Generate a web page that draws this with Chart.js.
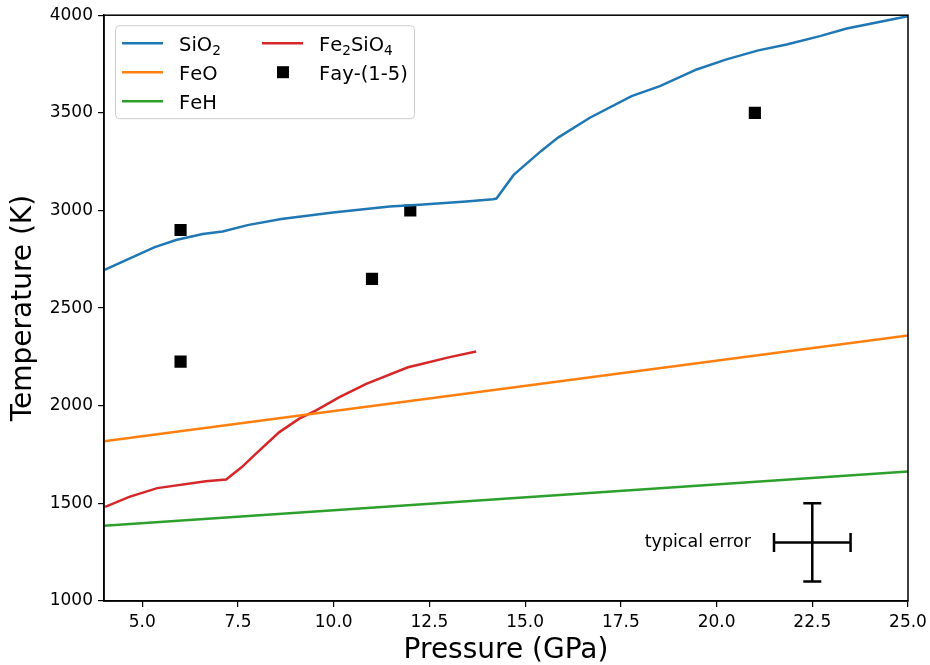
<!DOCTYPE html>
<html>
<head>
<meta charset="utf-8">
<script src="https://cdn.jsdelivr.net/npm/chart.js@4.4.0/dist/chart.umd.min.js"></script>
<style>
  html, body { margin: 0; padding: 0; background: #fff; }
  #wrap { width: 930px; height: 665px; }
</style>
</head>
<body>
<div id="wrap"><canvas id="c" width="930" height="665"></canvas></div>
<script>
// melting curves (pressure GPa, temperature K)
const sio2P = [4, 5.31, 5.88, 6.58, 7.1, 7.75, 8.63, 9.98, 11.46, 12.24, 13.46, 14.16, 14.25, 14.7, 15.12, 15.42, 15.86, 16.69, 17.78, 18.52, 19.48, 20.26, 21.09, 21.83, 22.7, 23.4, 25];
const sio2T = [2695, 2811, 2849, 2879, 2892, 2925, 2956, 2990, 3020, 3029, 3046, 3058, 3061, 3182, 3254, 3305, 3373, 3475, 3586, 3637, 3722, 3774, 3820, 3850, 3893, 3932, 3995];

const feoP = [4, 25];
const feoT = [1818, 2360];

const fehP = [4, 25];
const fehT = [1385, 1663];

const fayCurveP = [4.03, 4.66, 5.39, 6.66, 7.19, 7.6, 7.97, 8.58, 9.1, 9.54, 10.15, 10.85, 11.94, 12.24, 13.03, 13.72];
const fayCurveT = [1482, 1533, 1578, 1613, 1622, 1686, 1755, 1865, 1934, 1976, 2044, 2112, 2197, 2211, 2249, 2278];

// Fay-(1-5) experiments
const fayExpP = [6, 6, 11, 12, 21];
const fayExpT = [2900, 2226, 2650, 3000, 3500];

// typical error bar
const errCenter = [22.5, 1300];
const errSize = [1, 200];

const xTicks = [5, 7.5, 10, 12.5, 15, 17.5, 20, 22.5, 25];
const yTicks = [1000, 1500, 2000, 2500, 3000, 3500, 4000];

const pts = (xs, ys) => xs.map((x, i) => ({ x: x, y: ys[i] }));
const FONT = 'DejaVu Sans';
const SUBS = '₀₁₂₃₄₅₆₇₈₉';

function lineSet(label, xs, ys, color) {
  return {
    label: label, data: pts(xs, ys), borderColor: color, backgroundColor: color,
    borderWidth: 2.5, pointRadius: 0, showLine: true, tension: 0, fill: false
  };
}

const datasets = [
  lineSet('SiO₂', sio2P, sio2T, '#1f77b4'),
  lineSet('FeO', feoP, feoT, '#ff7f0e'),
  lineSet('FeH', fehP, fehT, '#2ca02c'),
  lineSet('Fe₂SiO₄', fayCurveP, fayCurveT, '#d62728'),
  {
    label: 'Fay-(1-5)', data: pts(fayExpP, fayExpT), showLine: false,
    pointStyle: 'rect', pointRadius: 8.6, borderWidth: 0,
    backgroundColor: '#000', borderColor: '#000'
  }
];

// write a label, subscript digits smaller and lower like mathtext
function drawLabel(ctx, text, x, y, size) {
  for (const ch of text) {
    const k = SUBS.indexOf(ch);
    if (k >= 0) {
      ctx.font = (size * 0.7) + 'px "' + FONT + '"';
      ctx.fillText(String(k), x, y + size * 0.2);
      x += ctx.measureText(String(k)).width;
    } else {
      ctx.font = size + 'px "' + FONT + '"';
      ctx.fillText(ch, x, y);
      x += ctx.measureText(ch).width;
    }
  }
}

// frame, error bar and legend
const extras = {
  id: 'extras',
  afterDatasetsDraw(chart) {
    const ctx = chart.ctx, a = chart.chartArea;
    const xs = chart.scales.x, ys = chart.scales.y;
    ctx.save();

    // error bar
    const cx = xs.getPixelForValue(errCenter[0]), cy = ys.getPixelForValue(errCenter[1]);
    const x0 = xs.getPixelForValue(errCenter[0] - errSize[0]), x1 = xs.getPixelForValue(errCenter[0] + errSize[0]);
    const y0 = ys.getPixelForValue(errCenter[1] - errSize[1]), y1 = ys.getPixelForValue(errCenter[1] + errSize[1]);
    ctx.strokeStyle = '#000';
    ctx.lineWidth = 2.5;
    ctx.beginPath();
    ctx.moveTo(x0, cy); ctx.lineTo(x1, cy);
    ctx.moveTo(cx, y0); ctx.lineTo(cx, y1);
    ctx.moveTo(x0, cy - 9.5); ctx.lineTo(x0, cy + 9.5);
    ctx.moveTo(x1, cy - 9.5); ctx.lineTo(x1, cy + 9.5);
    ctx.moveTo(cx - 9, y0); ctx.lineTo(cx + 9, y0);
    ctx.moveTo(cx - 9, y1); ctx.lineTo(cx + 9, y1);
    ctx.stroke();
    ctx.fillStyle = '#000';
    ctx.font = '17.5px "' + FONT + '"';
    ctx.textAlign = 'right';
    ctx.textBaseline = 'middle';
    ctx.fillText('typical error', x0 - 23, cy);

    // frame
    ctx.lineWidth = 1.5;
    ctx.strokeRect(a.left, a.top, a.right - a.left, a.bottom - a.top);

    // legend, two columns, column-major like matplotlib
    const bx = a.left + 11, by = a.top + 10, bw = 299, bh = 93;
    ctx.fillStyle = 'rgba(255,255,255,0.8)';
    ctx.strokeStyle = '#cccccc';
    ctx.lineWidth = 1;
    ctx.beginPath();
    ctx.roundRect(bx + 0.5, by + 0.5, bw, bh, 4);
    ctx.fill();
    ctx.stroke();
    ctx.textAlign = 'left';
    ctx.textBaseline = 'alphabetic';
    chart.data.datasets.forEach((ds, i) => {
      const col = Math.floor(i / 3), row = i % 3;
      const lx = bx + 7 + col * 140, ly = by + 18 + row * 29;
      if (ds.showLine) {
        ctx.strokeStyle = ds.borderColor;
        ctx.lineWidth = 2.5;
        ctx.beginPath();
        ctx.moveTo(lx, ly); ctx.lineTo(lx + 41, ly);
        ctx.stroke();
      } else {
        ctx.fillStyle = ds.backgroundColor;
        ctx.fillRect(lx + 15, ly - 6, 12, 12);
      }
      ctx.fillStyle = '#000';
      drawLabel(ctx, ds.label, lx + 57, ly + 8, 19.5);
    });
    ctx.restore();
  }
};

new Chart(document.getElementById('c'), {
  type: 'scatter',
  data: { datasets: datasets },
  plugins: [extras],
  options: {
    responsive: false,
    animation: false,
    layout: { padding: { left: 0, right: 22, top: 14, bottom: 0 } },
    plugins: { legend: { display: false }, tooltip: { enabled: false } },
    scales: {
      x: {
        type: 'linear', min: 4, max: 25,
        afterBuildTicks: s => { s.ticks = xTicks.map(v => ({ value: v })); },
        afterFit: s => { s.height = 64; s.paddingRight = 0; s.paddingLeft = 0; },
        grid: { display: true, drawOnChartArea: false, drawTicks: true, tickLength: 6, color: '#000', lineWidth: 1.2 },
        border: { display: true, color: '#000', width: 1.5 },
        ticks: { color: '#000', padding: 5, maxRotation: 0, autoSkip: false, font: { family: FONT, size: 17 }, callback: v => Number(v).toFixed(1) },
        title: { display: true, text: 'Pressure (GPa)', color: '#000', font: { family: FONT, size: 28, lineHeight: 1 }, padding: { top: 0, bottom: 0 } }
      },
      y: {
        type: 'linear', min: 1000, max: 4000,
        afterBuildTicks: s => { s.ticks = yTicks.map(v => ({ value: v })); },
        afterFit: s => { s.width = 104; },
        grid: { display: true, drawOnChartArea: false, drawTicks: true, tickLength: 6, color: '#000', lineWidth: 1.2 },
        border: { display: true, color: '#000', width: 1.5 },
        ticks: { color: '#000', padding: 5, autoSkip: false, font: { family: FONT, size: 17 }, callback: v => String(v) },
        title: { display: true, text: 'Temperature (K)', color: '#000', font: { family: FONT, size: 28, lineHeight: 1 }, padding: { top: 10, bottom: 0 } }
      }
    }
  }
});
</script>
</body>
</html>
